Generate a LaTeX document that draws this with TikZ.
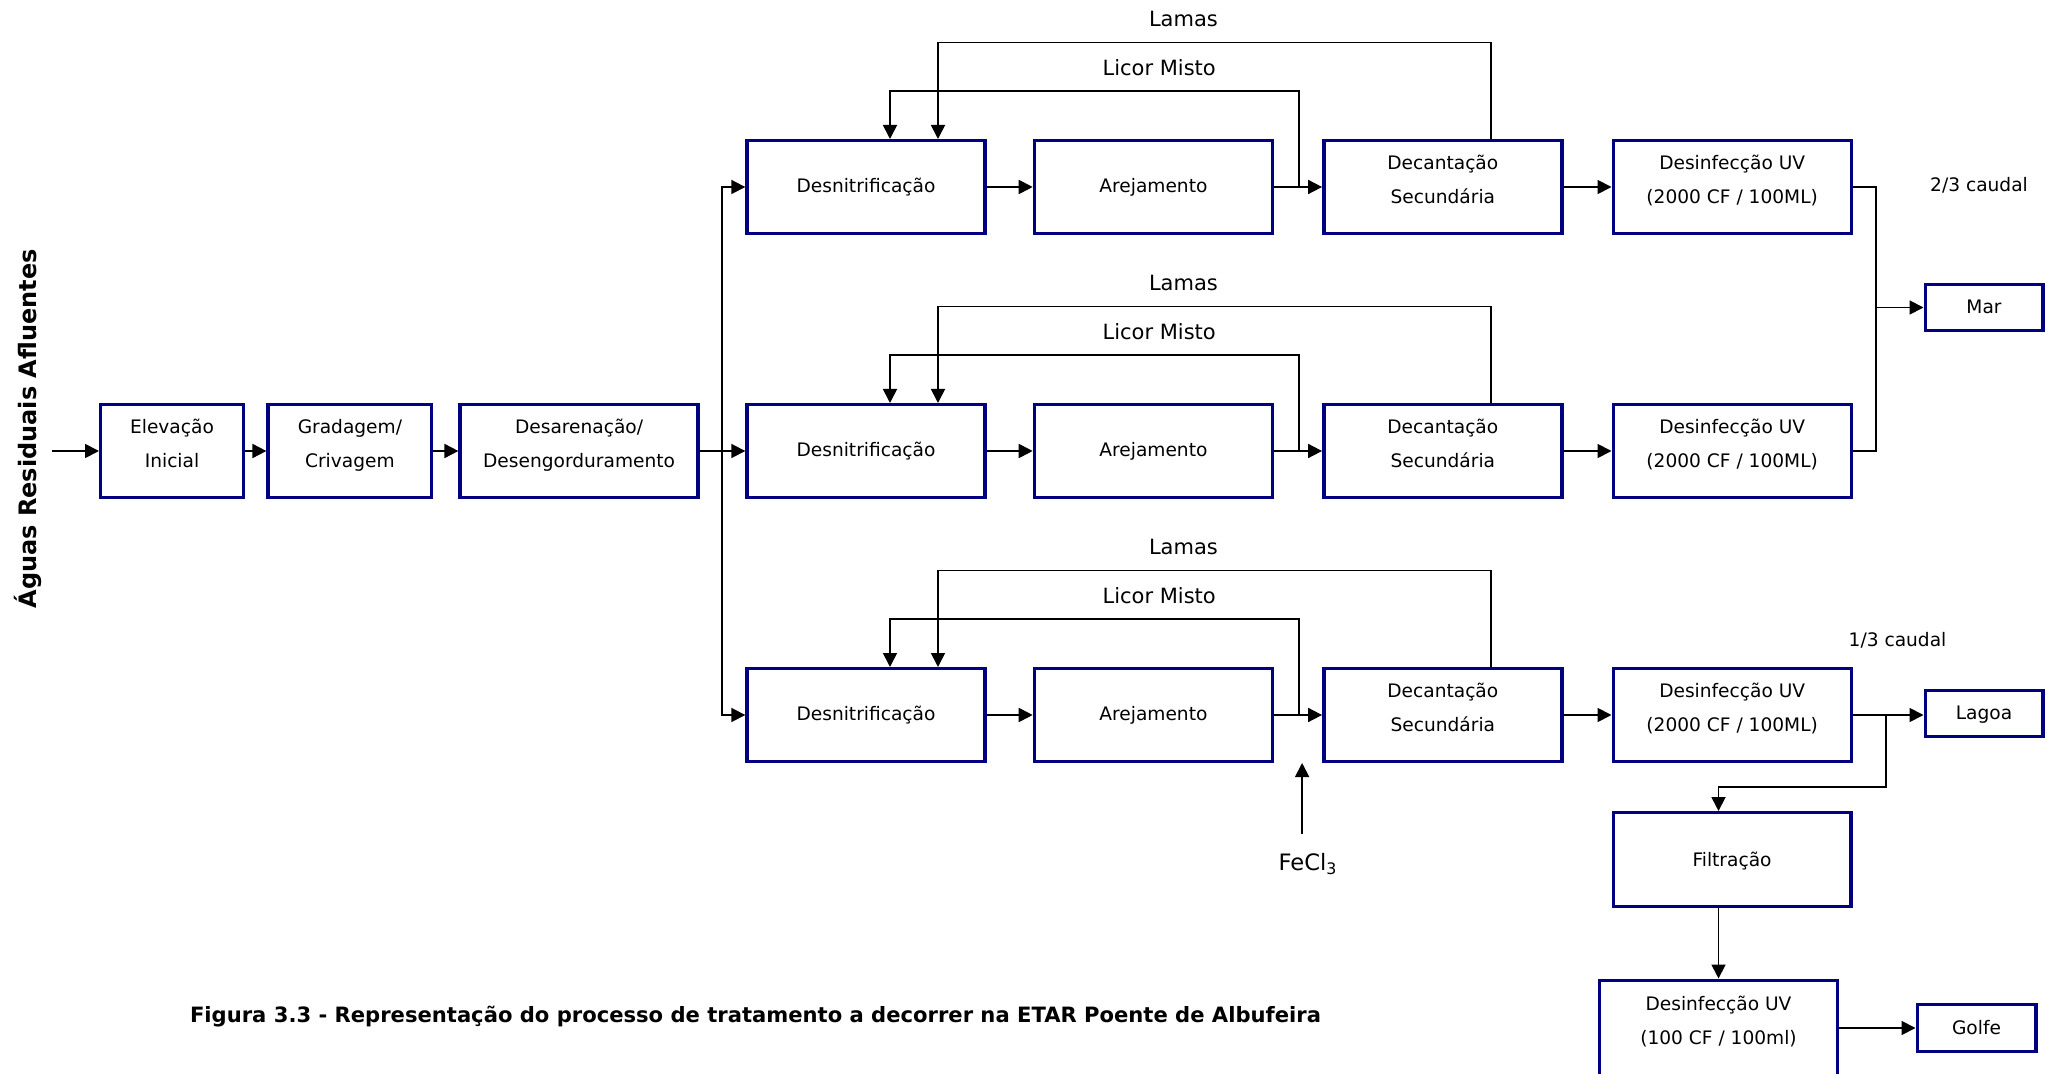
\documentclass[tikz,border=0pt]{standalone}
\usepackage{fontspec}
\setmainfont{DejaVu Sans}
\usetikzlibrary{positioning, arrows.meta}
\definecolor{navy}{RGB}{0,0,128}

\begin{document}
\begin{tikzpicture}[x=0.5pt, y=-0.5pt, node distance=23pt,
  box/.style={draw=navy, line width=1.7pt, minimum width=119pt, minimum height=46.3pt,
    align=center, font=\fontsize{9.3}{17}\selectfont},
  two/.style={box, text depth=8pt},
  endbox/.style={box, minimum width=58.8pt, minimum height=22.8pt, text depth=0.5pt},
  flow/.style={line width=0.9pt},
  lbl/.style={font=\fontsize{10.5}{12}\selectfont},
  >={Triangle[length=7pt, width=7pt]}]
  \useasboundingbox (0,0) rectangle (2045,1074);

  % pre-treatment
  \coordinate (entry) at (52,451);
  \node[two, minimum width=71.3pt]             (elev)  at (172,451) {Elevação\\Inicial};
  \node[two, minimum width=81.8pt, right=10.7pt of elev] (grad)  {Gradagem/\\Crivagem};
  \node[two, right=12.5pt of grad]               (desar) {Desarenação/\\Desengorduramento};

  % three lines
  \node[box, right=22.75pt of desar]  (desn 2) {Desnitrificação};
  \node[box, above=84pt of desn 2]    (desn 1) {Desnitrificação};
  \node[box, below=84pt of desn 2]    (desn 3) {Desnitrificação};
  \node[box, right=of desn 1]         (arej 1) {Arejamento};
  \node[box, right=of desn 2]         (arej 2) {Arejamento};
  \node[box, right=of desn 3]         (arej 3) {Arejamento};
  \node[two, right=24pt of arej 1]    (dec 1)  {Decantação\\Secundária};
  \node[two, right=24pt of arej 2]    (dec 2)  {Decantação\\Secundária};
  \node[two, right=24pt of arej 3]    (dec 3)  {Decantação\\Secundária};
  \node[two, right=24pt of dec 1]     (uv 1)   {Desinfecção UV\\(2000 CF / 100ML)};
  \node[two, right=24pt of dec 2]     (uv 2)   {Desinfecção UV\\(2000 CF / 100ML)};
  \node[two, right=24pt of dec 3]     (uv 3)   {Desinfecção UV\\(2000 CF / 100ML)};

  % destinations
  \node[endbox]  (mar)   at (1984,307.5) {Mar};
  \node[endbox]  (lagoa) at (1984,713.5) {Lagoa};
  \node[box, minimum width=118.8pt, minimum height=46.8pt, text depth=0.5pt] (filt) at (1732,859.5) {Filtração};
  \node[two, minimum width=118.8pt, minimum height=47.8pt] (uv golfe) at (1718.5,1028) {Desinfecção UV\\(100 CF / 100ml)};
  \node[endbox, minimum width=59.3pt, minimum height=23.3pt] (golfe) at (1976.5,1028) {Golfe};

  \node[font=\fontsize{9.3}{11}\selectfont] (caudal 2) at (1979,185) {2/3 caudal};
  \node[font=\fontsize{9.3}{11}\selectfont] (caudal 1) at (1897.5,640) {1/3 caudal};
  \node[font=\fontsize{11.3}{13}\selectfont] (fecl) at (1308,864) {FeCl\textsubscript{3}};
  \node[rotate=90, font=\bfseries\fontsize{12}{14}\selectfont] (afl) at (28,429) {Águas Residuais Afluentes};
  \node[anchor=west, font=\bfseries\fontsize{10.55}{12}\selectfont] (caption) at (183,1017)
    {Figura 3.3 - Representação do processo de tratamento a decorrer na ETAR Poente de Albufeira};

  % main flow
  \draw[flow, ->] (entry) -- (elev);
  \draw[flow, ->] (elev) -- (grad);
  \draw[flow, ->] (grad) -- (desar);
  \draw[flow, ->] (desar) -- (desn 2);
  \coordinate (split) at ([xshift=11.25pt]desar.east);
  \draw[flow, ->] (split) |- (desn 1.west);
  \draw[flow, ->] (split) |- (desn 3.west);

  \draw[flow, ->] (desn 1) -- (arej 1);
  \draw[flow, ->] (arej 1) -- (dec 1);
  \draw[flow, ->] (dec 1) -- (uv 1);
  \draw[flow, ->] (desn 2) -- (arej 2);
  \draw[flow, ->] (arej 2) -- (dec 2);
  \draw[flow, ->] (dec 2) -- (uv 2);
  \draw[flow, ->] (desn 3) -- (arej 3);
  \draw[flow, ->] (arej 3) -- (dec 3);
  \draw[flow, ->] (dec 3) -- (uv 3);

  % recirculation
  \draw[flow, ->] ([xshift=24pt]dec 1.north) -- ++(0,-96.5)
    -| node[lbl, above=4pt, pos=0.278] (lamas 1) {Lamas} ([xshift=36pt]desn 1.north);
  \draw[flow, ->] ([xshift=12.5pt]arej 1.east) -- ++(0,-96)
    -| node[lbl, above=4pt, pos=0.171] (licor 1) {Licor Misto} ([xshift=12pt]desn 1.north);
  \draw[flow, ->] ([xshift=24pt]dec 2.north) -- ++(0,-96.5)
    -| node[lbl, above=4pt, pos=0.278] (lamas 2) {Lamas} ([xshift=36pt]desn 2.north);
  \draw[flow, ->] ([xshift=12.5pt]arej 2.east) -- ++(0,-96)
    -| node[lbl, above=4pt, pos=0.171] (licor 2) {Licor Misto} ([xshift=12pt]desn 2.north);
  \draw[flow, ->] ([xshift=24pt]dec 3.north) -- ++(0,-96.5)
    -| node[lbl, above=4pt, pos=0.278] (lamas 3) {Lamas} ([xshift=36pt]desn 3.north);
  \draw[flow, ->] ([xshift=12.5pt]arej 3.east) -- ++(0,-96)
    -| node[lbl, above=4pt, pos=0.171] (licor 3) {Licor Misto} ([xshift=12pt]desn 3.north);

  % FeCl3 dosing
  \coordinate (dose) at ([xshift=14pt]arej 3.south east);
  \draw[flow, ->, shorten <=6pt] (fecl.north -| dose) -- (dose);

  % outlets
  \coordinate (join) at ([xshift=11.5pt]uv 1.east);
  \draw[flow] (uv 1.east) -- (join) |- (uv 2.east);
  \draw[flow, ->] (join |- mar) -- (mar);
  \draw[flow, ->] (uv 3.east) -- (uv 3.east -| lagoa.west);
  \coordinate (branch) at ([xshift=16.5pt]uv 3.east);
  \draw[flow, ->] (branch) -- ++(0,72) -| (filt.north -| uv golfe.north);
  \draw[flow, ->] (filt.south -| uv golfe.north) -- (uv golfe);
  \draw[flow, ->] (uv golfe) -- (golfe);
\end{tikzpicture}
\end{document}
